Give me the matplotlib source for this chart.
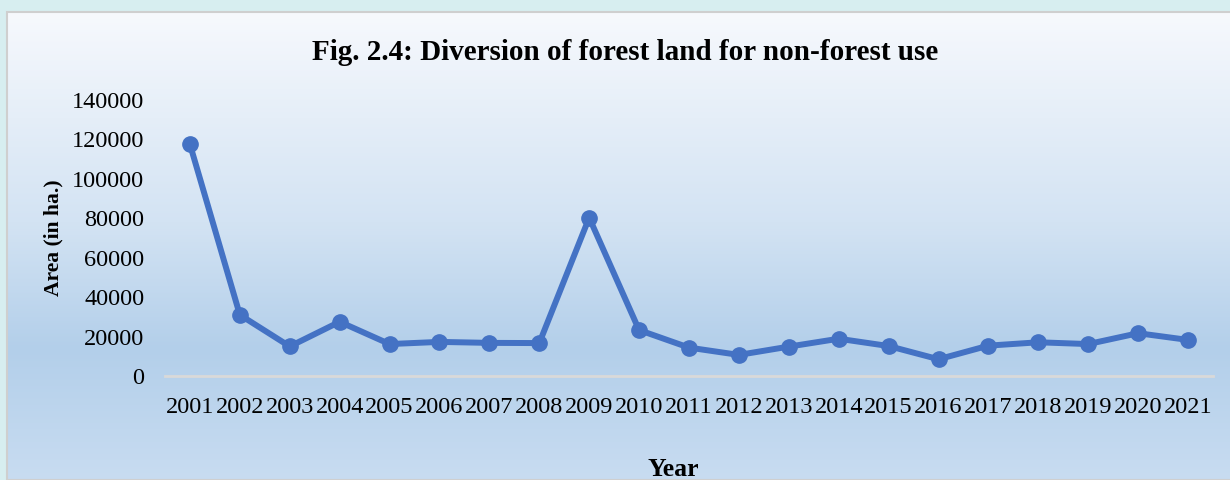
import matplotlib
matplotlib.use("Agg")
import matplotlib.pyplot as plt
import numpy as np
from matplotlib.colors import LinearSegmentedColormap
from matplotlib.patches import Rectangle

years = ["2001", "2002", "2003", "2004", "2005", "2006", "2007", "2008", "2009", "2010",
         "2011", "2012", "2013", "2014", "2015", "2016", "2017", "2018", "2019", "2020", "2021"]
area = [117500, 31000, 15000, 27500, 16200, 17300, 16800, 16700, 80300, 23300,
        14400, 10700, 14900, 18900, 15200, 8500, 15400, 17100, 16200, 21700, 18300]
yticks = [0, 20000, 40000, 60000, 80000, 100000, 120000, 140000]

W, H = 1230, 480
fig = plt.figure(figsize=(W / 100, H / 100), dpi=100)
fig.patch.set_facecolor("#d7eef0")

# chart box with gradient
bx0, by0 = 7 / W, 0.0
bw, bh = (W - 7) / W, (H - 12) / H
bg = fig.add_axes([bx0, by0, bw, bh], zorder=0)
cmap = LinearSegmentedColormap.from_list(
    "g", [(0.0, "#f7f9fd"), (0.45, "#d3e3f3"), (0.72, "#b3cfea"), (1.0, "#c8dcf1")])
grad = np.linspace(0, 1, 256).reshape(-1, 1)
bg.imshow(grad, aspect="auto", cmap=cmap, extent=[0, 1, 0, 1], origin="upper")
bg.set_xlim(0, 1)
bg.set_ylim(0, 1)
bg.axis("off")
fig.patches.append(Rectangle((bx0, by0), bw + 0.01, bh, transform=fig.transFigure,
                             fill=False, edgecolor="#cfcfcf", linewidth=1.5, zorder=1))

serif = ["Liberation Serif", "DejaVu Serif"]

ax = fig.add_axes([165 / W, (H - 376) / H, (1213 - 165) / W, (376 - 100) / H], zorder=2)
ax.patch.set_alpha(0)
x = np.arange(len(years))
ax.plot(x, area, color="#4472c4", linewidth=4.3, marker="o", markersize=11,
        solid_capstyle="round", zorder=3)
ax.set_xlim(-0.5, len(years) - 0.5)
ax.set_ylim(0, 140000)
ax.set_yticks(yticks)
ax.set_yticklabels([str(v) for v in yticks], fontsize=17.5, fontfamily=serif)
ax.set_xticks(x)
ax.set_xticklabels(years, fontsize=17.5, fontfamily=serif)
ax.tick_params(axis="both", length=0)
ax.tick_params(axis="y", pad=15)
ax.tick_params(axis="x", pad=15)
for s in ["top", "right", "left"]:
    ax.spines[s].set_visible(False)
ax.spines["bottom"].set_color("#d9d9d9")
ax.spines["bottom"].set_linewidth(2)

fig.text(625 / W, 1 - 53 / H, "Fig. 2.4: Diversion of forest land for non-forest use",
         ha="center", va="center", fontsize=21, fontweight="bold", fontfamily=serif)
fig.text(53 / W, 1 - 238 / H, "Area (in ha.)", ha="center", va="center", rotation=90,
         fontsize=15.5, fontweight="bold", fontfamily=serif)
fig.text(673 / W, 1 - 469 / H, "Year", ha="center", va="center",
         fontsize=18.5, fontweight="bold", fontfamily=serif)

fig.savefig("out.png", dpi=100, facecolor=fig.get_facecolor())
